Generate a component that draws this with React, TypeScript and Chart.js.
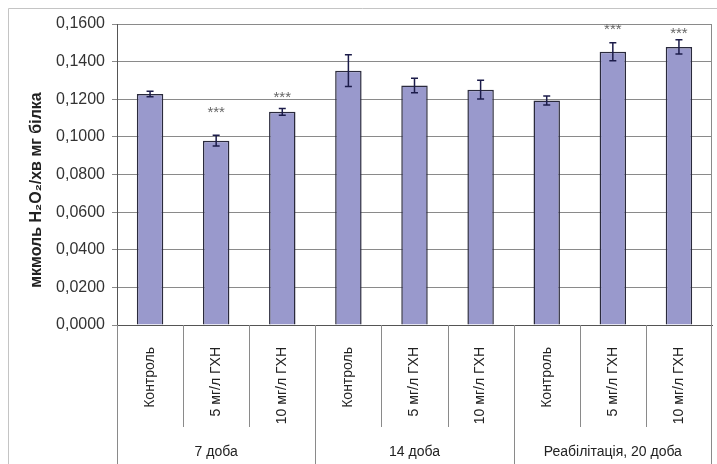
import React, { useEffect, useRef } from "react";
import { Chart, registerables } from "chart.js";

Chart.register(...registerables);

const categories = [
  "Контроль", "5 мг/л ГХН", "10 мг/л ГХН",
  "Контроль", "5 мг/л ГХН", "10 мг/л ГХН",
  "Контроль", "5 мг/л ГХН", "10 мг/л ГХН",
];
const groups = ["7 доба", "14 доба", "Реабілітація, 20 доба"];
const groupSize = 3;
const values = [0.1228, 0.0980, 0.1133, 0.1352, 0.1273, 0.1251, 0.1193, 0.1452, 0.1478];
const errors = [0.0015, 0.0028, 0.0018, 0.0084, 0.0038, 0.0050, 0.0024, 0.0048, 0.0038];
const significance = ["", "***", "***", "", "", "", "", "***", "***"];
const starLevels = [0, 0.1145, 0.1225, 0, 0, 0, 0, 0.1587, 0.1565];
const yTickLabels = ["0,0000", "0,0200", "0,0400", "0,0600", "0,0800", "0,1000", "0,1200", "0,1400", "0,1600"];
const yTitle = "мкмоль H₂O₂/хв мг білка";

const FONT = "'Liberation Sans', Arial, sans-serif";

const overlay = {
  id: "overlay",
  beforeDraw(chart: any) {
    const ctx = chart.ctx;
    ctx.save();
    ctx.fillStyle = "#ffffff";
    ctx.fillRect(0, 0, chart.width, chart.height);
    ctx.strokeStyle = "#c4c4c4";
    ctx.lineWidth = 1;
    ctx.beginPath();
    ctx.moveTo(8.5, chart.height);
    ctx.lineTo(8.5, 8.5);
    ctx.lineTo(chart.width, 8.5);
    ctx.stroke();
    ctx.restore();
  },
  afterDatasetsDraw(chart: any) {
    const ctx = chart.ctx;
    const x = chart.scales.x;
    const y = chart.scales.y;
    ctx.save();
    ctx.strokeStyle = "#1c1c4a";
    ctx.lineWidth = 1.5;
    values.forEach((v, i) => {
      const px = x.getPixelForValue(i);
      const top = y.getPixelForValue(v + errors[i]);
      const bot = y.getPixelForValue(v - errors[i]);
      ctx.beginPath();
      ctx.moveTo(px, top);
      ctx.lineTo(px, bot);
      ctx.moveTo(px - 3.5, top);
      ctx.lineTo(px + 3.5, top);
      ctx.moveTo(px - 3.5, bot);
      ctx.lineTo(px + 3.5, bot);
      ctx.stroke();
    });
    ctx.fillStyle = "#666";
    ctx.font = `15px ${FONT}`;
    ctx.textAlign = "center";
    ctx.textBaseline = "middle";
    significance.forEach((s, i) => {
      if (!s) return;
      ctx.fillText(s, x.getPixelForValue(i), y.getPixelForValue(starLevels[i]) + 3);
    });
    ctx.restore();
  },
  afterDraw(chart: any) {
    const ctx = chart.ctx;
    const x = chart.scales.x;
    const area = chart.chartArea;
    const n = categories.length;
    const step = (area.right - area.left) / n;
    ctx.save();
    ctx.strokeStyle = "#8a8a8a";
    ctx.lineWidth = 1;
    // right border
    ctx.beginPath();
    ctx.moveTo(Math.round(area.right) - 0.5, area.top);
    ctx.lineTo(Math.round(area.right) - 0.5, chart.height);
    ctx.stroke();
    // separators
    for (let k = 0; k < n; k++) {
      const px = Math.round(area.left + step * k) + 0.5;
      const long = k % groupSize === 0;
      ctx.beginPath();
      ctx.moveTo(px, area.bottom);
      ctx.lineTo(px, long ? chart.height : area.bottom + 102);
      ctx.stroke();
    }
    // group labels
    ctx.fillStyle = "#222";
    ctx.font = `14px ${FONT}`;
    ctx.textAlign = "center";
    ctx.textBaseline = "middle";
    groups.forEach((g, gi) => {
      const a = x.getPixelForValue(gi * groupSize);
      const b = x.getPixelForValue(gi * groupSize + groupSize - 1);
      ctx.fillText(g, (a + b) / 2, 452);
    });
    // y title
    ctx.translate(37, 190);
    ctx.rotate(-Math.PI / 2);
    ctx.font = `bold 16px ${FONT}`;
    ctx.fillStyle = "#222";
    ctx.fillText(yTitle, 0, 0);
    ctx.restore();
  },
};

export default function App() {
  const ref = useRef<HTMLCanvasElement | null>(null);
  useEffect(() => {
    if (!ref.current) return;
    const chart = new Chart(ref.current, {
      type: "bar",
      data: {
        labels: categories,
        datasets: [
          {
            data: values,
            backgroundColor: "#9999cc",
            borderColor: "#2a2a3c",
            borderWidth: 1.5,
            barPercentage: 0.4,
            categoryPercentage: 1,
          },
        ],
      },
      options: {
        animation: false,
        responsive: false,
        devicePixelRatio: 1,
        layout: { padding: { top: 24, right: 5, left: 0, bottom: 0 } },
        plugins: { legend: { display: false }, tooltip: { enabled: false } },
        scales: {
          x: {
            grid: { display: false },
            border: { display: true, color: "#555", width: 1 },
            ticks: {
              autoSkip: false,
              maxRotation: 90,
              minRotation: 90,
              padding: 14,
              color: "#222",
              font: { family: FONT, size: 14 },
            },
            afterFit(scale: any) {
              scale.height = 139;
            },
          },
          y: {
            min: 0,
            max: 0.16,
            ticks: {
              stepSize: 0.02,
              padding: 7,
              color: "#333",
              font: { family: FONT, size: 16 },
              callback: (_v: any, i: number) => yTickLabels[i],
            },
            grid: { color: "#8a8a8a", lineWidth: 1, tickLength: 5 },
            border: { display: true, color: "#555", width: 1 },
            afterFit(scale: any) {
              scale.width = 117;
            },
          },
        },
      },
      plugins: [overlay],
    });
    return () => chart.destroy();
  }, []);
  return (
    <div style={{ position: "fixed", left: 0, top: 0, width: 717, height: 464, background: "#fff" }}>
      <canvas ref={ref} width={717} height={464} style={{ display: "block" }} />
    </div>
  );
}
